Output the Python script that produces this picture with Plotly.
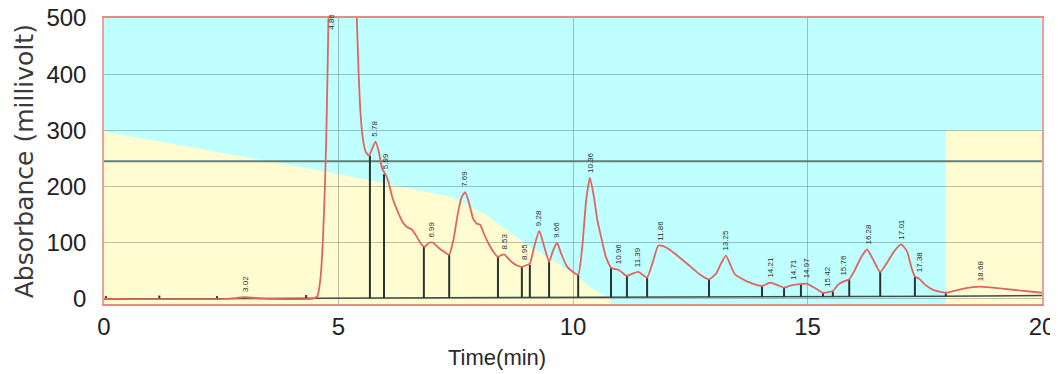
import plotly.graph_objects as go

# ---------------- data ----------------
# chromatogram trace (time in min, absorbance in mV)
trace_t = [0, 2.6, 3.0, 3.4, 4.45, 4.55, 4.62, 4.67, 4.71, 4.74, 4.77, 4.80, 4.9, 5.05, 5.2, 5.33,
           5.39, 5.43, 5.47, 5.52, 5.58, 5.65, 5.72, 5.79, 5.86, 5.93, 6.0, 6.06, 6.15, 6.25,
           6.36, 6.46, 6.56, 6.66, 6.76, 6.84, 6.93, 7.02, 7.12, 7.25, 7.36, 7.45, 7.54, 7.62,
           7.70, 7.78, 7.87, 7.95, 8.02, 8.1, 8.19, 8.3, 8.40, 8.47, 8.54, 8.63, 8.72, 8.82,
           8.91, 9.0, 9.08, 9.17, 9.28, 9.38, 9.49, 9.57, 9.66, 9.75, 9.87, 10.0, 10.11, 10.2,
           10.28, 10.36, 10.45, 10.52, 10.6, 10.7, 10.81, 10.9, 10.97, 11.06, 11.15, 11.27,
           11.39, 11.5, 11.58, 11.7, 11.82, 11.95, 12.07, 12.3, 12.5, 12.7, 12.9, 13.05, 13.15,
           13.26, 13.36, 13.45, 13.6, 13.77, 14.03, 14.2, 14.35, 14.5, 14.65, 14.78, 14.99,
           15.15, 15.33, 15.45, 15.54, 15.65, 15.74, 15.89, 16.0, 16.15, 16.27, 16.4, 16.55,
           16.7, 16.85, 17.0, 17.12, 17.22, 17.29, 17.38, 17.5, 17.68, 17.95, 18.3, 18.68,
           19.2, 20]
trace_mv = [0, 0, 3, 0.5, 0.5, 5, 40, 110, 200, 290, 420, 560, 760, 850, 800, 650,
            500, 400, 330, 285, 262, 255, 268, 280, 262, 232, 222, 210, 180, 158,
            138, 128, 124, 112, 98, 93, 100, 100, 92, 84, 79, 105, 150, 180,
            190, 172, 143, 134, 132, 116, 100, 84, 75, 78, 79, 71, 64, 59,
            57, 60, 63, 92, 121, 95, 66, 85, 100, 80, 58, 48, 43, 95,
            175, 216, 180, 140, 110, 75, 56, 53, 52, 46, 41, 45,
            48, 42, 38, 65, 95, 93, 87, 72, 58, 44, 35, 45, 62,
            77, 60, 44, 36, 29, 23, 29, 25, 20, 24, 26, 27,
            20, 11, 12, 14, 25, 30, 35, 50, 75, 88, 70, 48,
            65, 85, 97, 85, 55, 40, 36, 26, 16, 11, 18, 22,
            18, 11]

# gradient profile (shaded region)
grad1_t = [0, 4.71, 6.31, 7.38, 8.08, 8.66, 9.08, 9.3, 10.0, 10.36, 10.8]
grad1_v = [298, 227, 200, 182, 153, 118, 93, 82, 46, 21, 0]
grad2_t = [17.95, 20]
grad2_v = [300, 300]

# integration baseline and drop lines
base_t = [0, 4.31, 17.95, 20]
base_v = [0, 1, 5, 6]
drop_t = [0.04, 1.18, 2.41, 4.31, 5.67, 5.97, 6.82, 7.36, 8.40, 8.91, 9.08, 9.49, 10.11,
          10.81, 11.15, 11.58, 12.9, 14.03, 14.5, 14.86, 15.33, 15.54, 15.89, 16.55, 17.29, 17.95]
drop_v = [5, 6, 5, 7, 255, 222, 93, 79, 75, 57, 61, 66, 43,
          55, 41, 37, 34, 23, 20, 26, 11, 13, 34, 48, 39, 10]

# peak labels (retention times) and apex heights
peak_t = [3.02, 4.86, 5.78, 5.99, 6.99, 7.69, 8.53, 8.95, 9.28, 9.66, 10.36, 10.96, 11.39,
          11.86, 13.25, 14.21, 14.71, 14.97, 15.42, 15.76, 16.28, 17.01, 17.38, 18.68]
peak_v = [3, 470, 280, 222, 100, 190, 79, 60, 121, 100, 216, 52, 48,
          95, 77, 29, 26, 27, 12, 32, 88, 97, 38, 22]

threshold = 245
x_ticks = [0, 5, 10, 15, 20]
y_ticks = [0, 100, 200, 300, 400, 500]

# ---------------- figure ----------------
fig = go.Figure()

def poly_path(ts, vs, bottom):
    pts = [(ts[0], bottom)] + list(zip(ts, vs)) + [(ts[-1], bottom)]
    return "M " + " L ".join(f"{a},{b}" for a, b in pts) + " Z"

shapes = [
    dict(type="path", path=poly_path(grad1_t, grad1_v, -9), xref="x", yref="y",
         fillcolor="#FFFCD2", line=dict(width=0), layer="below"),
    dict(type="path", path=poly_path(grad2_t, grad2_v, -9), xref="x", yref="y",
         fillcolor="#FFFCD2", line=dict(width=0), layer="below"),
    dict(type="line", x0=0, x1=20, y0=threshold, y1=threshold, xref="x", yref="y",
         line=dict(color="#5f8078", width=2), layer="between"),
]

# baseline
fig.add_trace(go.Scatter(x=base_t, y=base_v, mode="lines",
                         line=dict(color="#3c5048", width=1.5), hoverinfo="skip"))
# drop lines
dx, dy = [], []
for t, v in zip(drop_t, drop_v):
    b = 0 if t < 4.31 else 1 + (t - 4.31) / (17.95 - 4.31) * 4
    dx += [t, t, None]
    dy += [b, v, None]
fig.add_trace(go.Scatter(x=dx, y=dy, mode="lines",
                         line=dict(color="#2a3530", width=2), hoverinfo="skip"))
# chromatogram
fig.add_trace(go.Scatter(x=trace_t, y=trace_mv, mode="lines",
                         line=dict(color="#dd6660", width=1.8, shape="spline", smoothing=0.5)))

annotations = []
for t, v in zip(peak_t, peak_v):
    annotations.append(dict(x=t, y=v, xref="x", yref="y", text=f"{t:.2f}", showarrow=False,
                            textangle=-90, yanchor="bottom", yshift=3,
                            font=dict(family="Liberation Sans", size=8, color="#2e2e2e")))
annotations.append(dict(x=(497 - 104) / 938, y=-0.135, xref="paper", yref="paper",
                        text="Time(min)", showarrow=False, xanchor="center", yanchor="top",
                        font=dict(family="Liberation Sans", size=22, color="#2a2a2a")))
annotations.append(dict(x=-0.085, y=0.5, xref="paper", yref="paper",
                        text="Absorbance (millivolt)", showarrow=False, textangle=-90,
                        xanchor="center", yanchor="middle",
                        font=dict(family="DejaVu Sans", size=25, color="#3a3a3a")))

tickfont = dict(family="Liberation Sans", size=24, color="#222222")

# page body has an 8px margin; compensate so the plot lands where the reference has it
fig.update_layout(
    width=1050, height=366,
    margin=dict(l=96, r=16, t=10, b=70),
    paper_bgcolor="white",
    plot_bgcolor="#C0FFFF",
    showlegend=False,
    shapes=shapes,
    annotations=annotations,
    xaxis=dict(range=[0, 20], tickvals=x_ticks, ticktext=[str(v) for v in x_ticks],
               showgrid=True, gridcolor="rgba(90,100,100,0.4)", gridwidth=1,
               zeroline=False, showline=True, linecolor="#e88a86", linewidth=2, mirror=True,
               ticks="", tickfont=tickfont, ticklabelstandoff=0, automargin=False,
               ticklabeloverflow="allow"),
    yaxis=dict(range=[-9, 500], tickvals=y_ticks, ticktext=[str(v) for v in y_ticks],
               showgrid=True, gridcolor="rgba(90,100,100,0.4)", gridwidth=1,
               zeroline=False, showline=True, linecolor="#eaa09c", linewidth=1.5, mirror=True,
               ticks="", tickfont=tickfont, ticklabelstandoff=11, automargin=False,
               ticklabeloverflow="allow"),
)

fig.write_html("out.html")
